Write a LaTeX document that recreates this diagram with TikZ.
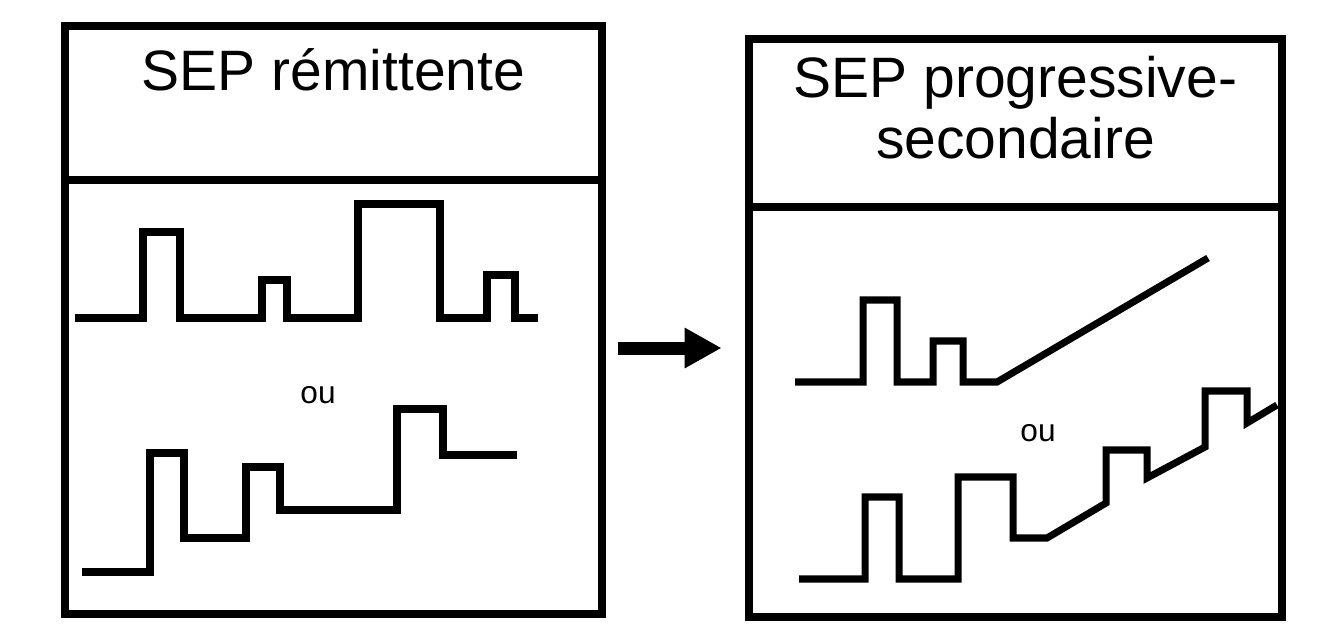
\documentclass[tikz,border=0pt]{standalone}
\usepackage{fontspec}
\setmainfont{Liberation Sans}
\usetikzlibrary{arrows.meta}

\begin{document}
\begin{tikzpicture}[x=0.01cm,y=-0.01cm,
  panel/.style={draw,rectangle,line width=2.4pt,inner sep=0pt},
  ttl/.style={font=\fontsize{16.2}{17.3}\selectfont,align=center,inner sep=0pt},
  ou/.style={font=\fontsize{9}{10}\selectfont,inner sep=0pt},
  trace/.style={line width=2pt,line join=miter},
  rule/.style={line width=2.4pt}]

  \useasboundingbox (0,0) rectangle (1334,636);

  % PANEL A: remittente
  \node[panel,minimum width=5.37cm,minimum height=5.88cm] (rem) at (333.5,320) {};
  \draw[rule] (rem.west |- 0,180) -- (rem.east |- 0,180);
  \node[ttl,anchor=base] (t1) at (333.5,90) {SEP rémittente};
  \node[ou] (ou1) at (318,395) {ou};

  % Traces
  \draw[trace] (75,318) -| (143,232) -| (180,318) -| (262,280) -| (287,318)
    -| (358,204) -| (440,318) -| (487,275) -| (515,318) -- (538,318);
  \draw[trace] (82,572) -| (150,453) -| (184,538) -| (246,467) -| (280,510)
    -| (397,409) -| (443,455) -- (517,455);

  % PANEL B: progressive-secondaire
  \node[panel,minimum width=5.33cm,minimum height=5.78cm] (sec) at (1015.5,328) {};
  \draw[rule] (sec.west |- 0,207) -- (sec.east |- 0,207);
  \node[ttl,anchor=base] (t2) at (1015.5,158) {SEP progressive-\\secondaire};
  \node[ou] (ou2) at (1038,433) {ou};

  % Traces
  \draw[trace] (795,382) -| (863,300) -| (897,382) -| (933,341) -| (963,382)
    -- (997,382) -- (1208,258);
  \draw[trace] (799,579) -| (865,497) -| (899,579) -| (958,477) -| (1013,538)
    -- (1047,538) -- (1106,503) -- (1106,450) -- (1147,450) -- (1147,478)
    -- (1205,447) -- (1205,391) -- (1247,391) -- (1247,423) -- (1277,405);

  % Arrow
  \draw[line width=3.7pt,-{Triangle[length=0.37cm,width=0.38cm]},
    shorten <=0.12cm,shorten >=0.23cm] (rem.east |- 0,348) -- (sec.west |- 0,348);

\end{tikzpicture}
\end{document}
